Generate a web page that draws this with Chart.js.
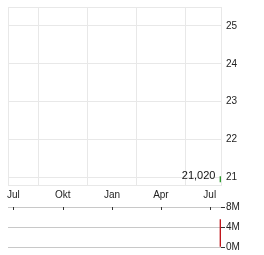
<!DOCTYPE html>
<html><head><meta charset="utf-8">
<script src="https://cdn.jsdelivr.net/npm/chart.js@4/dist/chart.umd.min.js"></script>
<style>
html,body{margin:0;padding:0;background:#fff;width:264px;height:255px;overflow:hidden}
#p{position:absolute;left:0;top:0}
#v{position:absolute;left:0;top:200px}
</style></head><body>
<canvas id="p" width="264" height="202"></canvas>
<canvas id="v" width="264" height="55"></canvas>
<script>
// Days counted from 1 July (first "Jul" tick)
const monthLabels = ['Jul', 'Okt', 'Jan', 'Apr', 'Jul'];
const monthDays = [0, 92, 184, 275, 366];
const priceTicks = [21, 22, 23, 24, 25];
const volumeTicks = [0, 4, 8];           // millions
const lastDay = [386];
const priceLow = [20.88];
const priceHigh = [21.02];
const priceClose = [21.02];
const volumeM = [5.5];
const dayMin = -10, dayMax = 387;
const priceMin = 20.8, priceMax = 25.5;

const FAMILY = 'Arial, "Liberation Sans", sans-serif';
const FONT = {family: FAMILY, size: 10};

const frame = {
  id: 'frame',
  beforeDatasetsDraw(c) {
    const a = c.chartArea, ctx = c.ctx;
    ctx.save();
    ctx.strokeStyle = '#e8e8e8';
    ctx.lineWidth = 1;
    ctx.strokeRect(a.left + 0.5, a.top + 0.5, a.right - a.left, a.bottom - a.top);
    ctx.restore();
  }
};
const lastLabel = {
  id: 'lastLabel',
  afterDatasetsDraw(c) {
    const x = c.scales.x, y = c.scales.y, ctx = c.ctx;
    const i = lastDay.length - 1;
    ctx.save();
    ctx.font = '11px ' + FAMILY;
    ctx.fillStyle = '#111';
    ctx.textAlign = 'right';
    ctx.textBaseline = 'middle';
    ctx.fillText(priceClose[i].toFixed(3).replace('.', ','),
      x.getPixelForValue(lastDay[i]) - 5, y.getPixelForValue(priceClose[i]) - 0.5);
    ctx.restore();
  }
};
const monthTicks = {
  id: 'monthTicks',
  afterDatasetsDraw(c) {
    const x = c.scales.x, top = c.chartArea.top, ctx = c.ctx;
    ctx.save();
    ctx.strokeStyle = '#333';
    ctx.lineWidth = 1;
    monthDays.forEach(d => {
      const px = Math.round(x.getPixelForValue(d)) + 0.5;
      ctx.beginPath(); ctx.moveTo(px, top); ctx.lineTo(px, top + 3); ctx.stroke();
    });
    ctx.restore();
  }
};

new Chart(document.getElementById('p'), {
  type: 'bar',
  data: {datasets: [{
    data: lastDay.map((d, i) => ({x: d, y: [priceLow[i], priceHigh[i]]})),
    backgroundColor: '#2e9b2e', borderWidth: 0, barThickness: 1
  }]},
  options: {
    responsive: false, animation: false, devicePixelRatio: 1,
    layout: {padding: {left: 8, top: 7, right: 0, bottom: 0}},
    plugins: {legend: {display: false}, tooltip: {enabled: false}},
    scales: {
      x: {
        type: 'linear', min: dayMin, max: dayMax, offset: false,
        afterBuildTicks: s => { s.ticks = monthDays.map(v => ({value: v})); },
        afterFit: s => { s.height = 17; s.paddingLeft = 0; s.paddingRight = 0; },
        ticks: {autoSkip: false, maxRotation: 0, padding: 4, color: '#222', font: FONT,
                callback: (v, i) => monthLabels[i]},
        grid: {color: '#e8e8e8', drawTicks: false}, border: {display: false}
      },
      y: {
        position: 'right', min: priceMin, max: priceMax,
        afterBuildTicks: s => { s.ticks = priceTicks.map(v => ({value: v})); },
        afterFit: s => { s.width = 43; s.paddingTop = 0; s.paddingBottom = 0; },
        ticks: {padding: 5, color: '#222', font: FONT, callback: v => String(v)},
        grid: {color: '#e8e8e8', drawTicks: false}, border: {display: false}
      }
    }
  },
  plugins: [frame, lastLabel]
});

new Chart(document.getElementById('v'), {
  type: 'bar',
  data: {datasets: [{
    data: lastDay.map((d, i) => ({x: d, y: volumeM[i]})),
    backgroundColor: '#c0161c', borderWidth: 0, barThickness: 1
  }]},
  options: {
    responsive: false, animation: false, devicePixelRatio: 1,
    layout: {padding: {left: 8, top: 7, right: 0, bottom: 8}},
    plugins: {legend: {display: false}, tooltip: {enabled: false}},
    scales: {
      x: {type: 'linear', display: false, min: dayMin, max: dayMax, offset: false},
      y: {
        position: 'right', min: 0, max: 8,
        afterBuildTicks: s => { s.ticks = volumeTicks.map(v => ({value: v})); },
        afterFit: s => { s.width = 43; s.paddingTop = 0; s.paddingBottom = 0; },
        ticks: {padding: 1, color: '#222', font: FONT, callback: v => v + 'M'},
        grid: {color: '#c8c8c8', tickColor: '#333', tickLength: 4, drawTicks: true},
        border: {display: false}
      }
    }
  },
  plugins: [monthTicks]
});
</script>
</body></html>
